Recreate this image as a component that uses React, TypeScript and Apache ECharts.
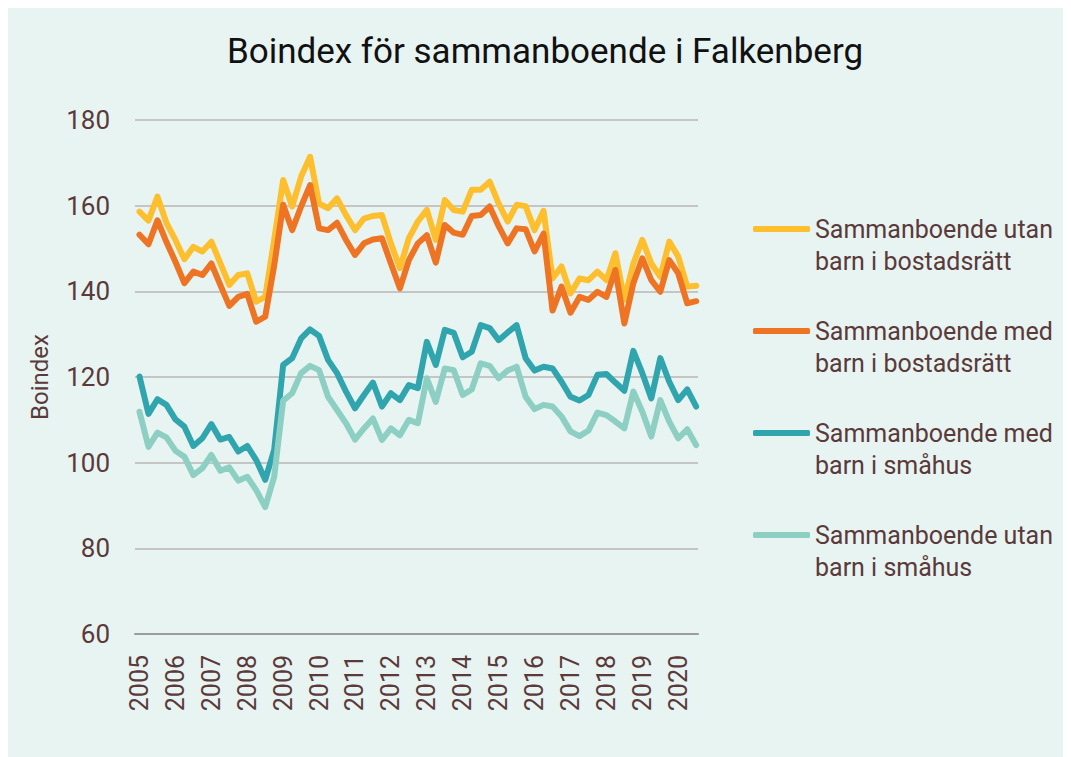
import React, { useEffect, useRef } from "react";
import * as echarts from "echarts";

const quarters: string[] = [];
for (let y = 2005; y <= 2020; y++) {
  for (let q = 1; q <= 4; q++) {
    if (y === 2020 && q > 3) break;
    quarters.push(`${y} K${q}`);
  }
}

const yearTickIndices = [0, 4, 8, 12, 16, 20, 24, 28, 32, 36, 40, 44, 48, 52, 56, 60];

const utanBostadsratt = [
  158.6, 156.5, 162.1, 156.0, 152.0, 147.5, 150.4, 149.3, 151.6, 146.6,
  141.5, 143.8, 144.2, 137.6, 138.7, 152.0, 166.0, 159.8, 166.8, 171.4,
  160.5, 159.4, 161.7, 157.8, 154.3, 157.0, 157.6, 157.8, 151.2, 145.4,
  152.4, 156.3, 159.0, 152.0, 161.3, 159.0, 158.6, 163.7, 163.7, 165.6,
  160.5, 156.3, 160.2, 159.9, 154.3, 158.8, 143.0, 145.8, 139.5, 143.0,
  142.6, 144.6, 142.6, 148.9, 138.0, 146.5, 152.0, 146.5, 143.4, 151.6,
  148.1, 141.1, 141.3,
];

const medBostadsratt = [
  153.2, 151.0, 156.6, 151.5, 146.9, 141.9, 144.6, 143.8, 146.5, 141.5,
  136.6, 138.7, 139.4, 132.9, 134.1, 146.0, 160.2, 154.3, 159.8, 164.8,
  154.7, 154.3, 156.0, 152.0, 148.5, 151.2, 152.1, 152.4, 146.5, 140.7,
  147.3, 151.2, 153.1, 146.7, 155.5, 153.7, 153.2, 157.6, 157.8, 159.8,
  155.2, 151.2, 154.7, 154.5, 149.3, 153.5, 135.5, 141.1, 135.0, 138.7,
  138.0, 139.9, 138.7, 145.0, 132.5, 141.9, 147.7, 142.6, 139.9, 147.3,
  144.2, 137.2, 137.7,
];

const medSmahus = [
  120.1, 111.4, 114.8, 113.5, 110.1, 108.4, 103.9, 105.7, 109.0, 105.4,
  106.0, 102.6, 103.9, 100.6, 96.0, 103.0, 122.8, 124.4, 129.0, 131.1,
  129.6, 124.0, 120.9, 116.6, 112.7, 115.8, 118.7, 113.1, 116.2, 114.6,
  118.1, 117.4, 128.2, 122.8, 131.0, 130.3, 124.6, 125.9, 132.1, 131.4,
  128.6, 130.4, 132.1, 124.4, 121.5, 122.4, 122.0, 118.9, 115.4, 114.5,
  115.8, 120.5, 120.7, 118.7, 116.8, 126.1, 120.9, 115.0, 124.4, 118.9,
  114.6, 117.1, 113.1,
];

const utanSmahus = [
  111.9, 103.7, 107.0, 105.9, 102.8, 101.4, 97.1, 98.7, 101.8, 98.1,
  98.9, 95.8, 96.7, 93.6, 89.6, 96.7, 114.5, 116.2, 120.9, 122.6,
  121.6, 115.4, 112.3, 109.2, 105.4, 108.0, 110.3, 105.3, 108.0, 106.4,
  110.0, 109.2, 119.7, 114.2, 122.0, 121.6, 115.8, 117.1, 123.2, 122.6,
  119.7, 121.5, 122.4, 115.4, 112.5, 113.5, 113.1, 110.8, 107.3, 106.2,
  107.5, 111.7, 111.1, 109.6, 108.0, 116.6, 111.9, 106.1, 114.6, 109.6,
  105.7, 107.8, 104.1,
];

const seriesNames = [
  "Sammanboende utan barn i bostadsrätt",
  "Sammanboende med barn i bostadsrätt",
  "Sammanboende med barn i småhus",
  "Sammanboende utan barn i småhus",
];
const seriesColors = ["#fdbf2d", "#ee7424", "#30a5ae", "#8dd0c3"];
const seriesValues = [utanBostadsratt, medBostadsratt, medSmahus, utanSmahus];

const TEXT = "#5a3a3a";
const FONT = "Roboto, 'Noto Sans', sans-serif";

export default function App() {
  const ref = useRef<HTMLDivElement>(null);
  useEffect(() => {
    if (!ref.current) return;
    const chart = echarts.init(ref.current, undefined, { renderer: "svg" });
    chart.setOption({
      animation: false,
      backgroundColor: "#e8f4f1",
      textStyle: { fontFamily: FONT },
      title: {
        text: "Boindex för sammanboende i Falkenberg",
        left: 537,
        top: 26,
        padding: 0,
        textAlign: "center",
        textStyle: { fontFamily: FONT, fontSize: 35, fontWeight: "normal", color: "#111111" },
      },
      legend: {
        orient: "vertical",
        left: 745,
        top: 173,
        padding: 0,
        itemWidth: 57,
        itemHeight: 6,
        itemGap: 6,
        icon: "roundRect",
        data: seriesNames,
        formatter: (name: string) => "\n" + name.replace(" barn", "\nbarn"),
        textStyle: {
          fontFamily: FONT,
          fontSize: 25,
          lineHeight: 32,
          color: TEXT,
        },
      },
      grid: { left: 127, top: 112, width: 563, height: 514 },
      xAxis: {
        type: "value",
        min: -0.5,
        max: 62.2,
        splitLine: { show: false },
        axisTick: { show: false },
        axisLine: { lineStyle: { color: "#9c9c9c", width: 2 } },
        axisLabel: {
          customValues: yearTickIndices,
          rotate: 90,
          margin: 21,
          fontSize: 25,
          color: TEXT,
          fontFamily: FONT,
          formatter: (v: number) => quarters[Math.round(v)]?.slice(0, 4) ?? "",
        },
      },
      yAxis: {
        type: "value",
        min: 60,
        max: 180,
        interval: 20,
        name: "Boindex",
        nameLocation: "middle",
        nameGap: 83,
        nameTextStyle: { fontSize: 24, color: TEXT, fontFamily: FONT },
        axisLine: { show: false },
        axisTick: { show: false },
        axisLabel: { fontSize: 26, color: TEXT, margin: 25, fontFamily: FONT },
        splitLine: { lineStyle: { color: "#c5c5c5", width: 2 } },
      },
      series: seriesNames.map((name, k) => ({
        name,
        type: "line",
        showSymbol: false,
        color: seriesColors[k],
        lineStyle: { width: 6, color: seriesColors[k], cap: "round", join: "round" },
        data: seriesValues[k].map((v, i) => [i, v]),
      })),
    });
    return () => chart.dispose();
  }, []);
  return <div ref={ref} style={{ width: 1063, height: 749 }} />;
}
